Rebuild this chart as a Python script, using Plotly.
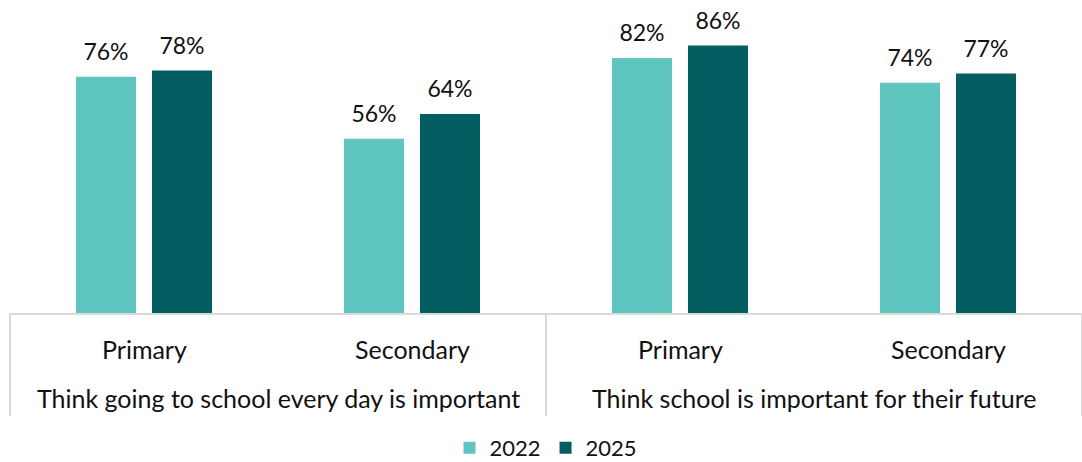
import plotly.graph_objects as go

groups = ["Think going to school every day is important", "Think going to school every day is important",
          "Think school is important for their future", "Think school is important for their future"]
phases = ["Primary", "Secondary", "Primary", "Secondary"]
group_labels = ["Think going to school every day is important", "Think school is important for their future"]
years = ["2022", "2025"]
values_2022 = [76, 56, 82, 74]
values_2025 = [78, 64, 86, 77]
colors = {"2022": "#5EC6BE", "2025": "#035E62"}

FONT = "Lato"
TEXT = "#111111"
RULE = "#D9D9D9"
PLOT_H = 311  # plot-area height in px (462 - top 2 - bottom 149)

fig = go.Figure()
for year, vals in zip(years, [values_2022, values_2025]):
    fig.add_trace(go.Bar(
        x=[groups, phases], y=vals, name=year,
        marker=dict(color=colors[year], line=dict(width=0)),
    ))

# value labels: invisible markers grouped like the bars, text sits on top
for year, vals in zip(years, [values_2022, values_2025]):
    fig.add_trace(go.Scatter(
        x=[groups, phases], y=vals, mode="markers+text", showlegend=False,
        text=[f"{v}%" for v in vals], textposition="top center",
        textfont=dict(family=FONT, size=23, color=TEXT),
        marker=dict(size=16, color="rgba(0,0,0,0)"),
        hoverinfo="skip", cliponaxis=False,
    ))

n = len(phases)
# inner category labels
for i, p in enumerate(phases):
    fig.add_annotation(x=(i + 0.5) / n, xref="paper", xanchor="center",
                       y=-36 / PLOT_H, yref="paper", yanchor="middle",
                       text=p, showarrow=False,
                       font=dict(family=FONT, size=25, color=TEXT))
# outer group labels
ng = len(group_labels)
for j, g in enumerate(group_labels):
    fig.add_annotation(x=(j + 0.5) / ng, xref="paper", xanchor="center",
                       y=-85 / PLOT_H, yref="paper", yanchor="middle",
                       text=g, showarrow=False,
                       font=dict(family=FONT, size=25, color=TEXT))
# group dividers
for k in range(ng + 1):
    fig.add_shape(type="line", xref="paper", yref="paper",
                  x0=k / ng, x1=k / ng, y0=0, y1=-103 / PLOT_H,
                  line=dict(color=RULE, width=2))

fig.update_layout(
    width=1082, height=462,
    margin=dict(l=10, r=0, t=2, b=149, autoexpand=False),
    paper_bgcolor="white", plot_bgcolor="white",
    barmode="group", bargap=0.433, bargroupgap=0.21,
    scattermode="group", scattergap=0.433,
    font=dict(family=FONT, size=22, color=TEXT),
    showlegend=True,
    legend=dict(orientation="h", x=0.5, xanchor="center",
                yref="container", y=14 / 462, yanchor="middle",
                font=dict(family=FONT, size=22, color=TEXT),
                itemwidth=30, tracegroupgap=0),
    xaxis=dict(type="multicategory", showline=True, linecolor=RULE, linewidth=2,
               showgrid=False, ticks="", showticklabels=False, showdividers=False),
    yaxis=dict(range=[0, 100], visible=False, showgrid=False, zeroline=False),
)

fig.write_html("out.html")
